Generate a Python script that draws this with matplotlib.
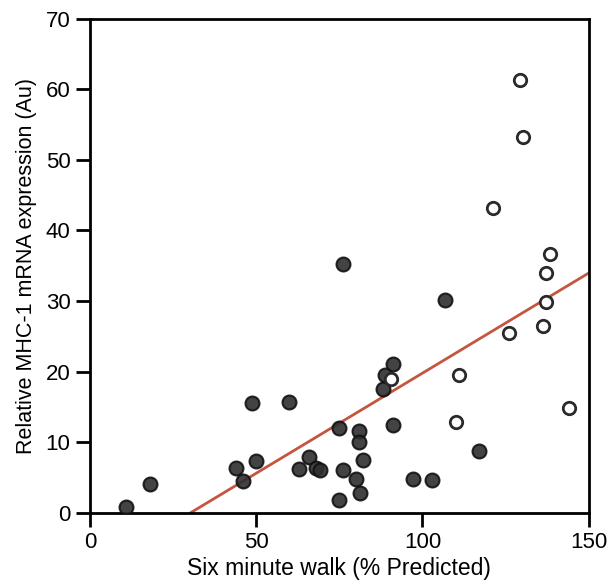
import numpy as np
import matplotlib.pyplot as plt

plt.rcParams['font.family'] = ['Liberation Sans', 'DejaVu Sans']

# filled circles
walk_filled = [10.8, 18.0, 43.9, 45.9, 48.8, 49.9, 59.9, 63.0, 66.0, 68.0, 69.1,
               75.0, 75.0, 76.0, 76.0, 80.0, 81.0, 81.0, 81.1, 82.0, 88.0, 88.8,
               91.1, 91.2, 97.0, 103.0, 106.9, 117.1]
mhc_filled = [0.8, 4.1, 6.3, 4.5, 15.5, 7.3, 15.7, 6.2, 7.9, 6.3, 6.1,
              12.0, 1.8, 35.2, 6.1, 4.8, 11.6, 10.0, 2.8, 7.4, 17.5, 19.5,
              12.4, 21.1, 4.8, 4.6, 30.2, 8.7]

# open circles
walk_open = [90.4, 110.2, 111.1, 121.1, 126.1, 129.2, 130.1, 136.1, 137.0, 137.0,
             138.3, 144.2]
mhc_open = [18.9, 12.9, 19.5, 43.2, 25.4, 61.4, 53.3, 26.5, 29.9, 34.0,
            36.6, 14.8]

# regression line
fit_slope = 0.284
fit_intercept = -8.63
fit_x = [30.4, 150]

fig = plt.figure(figsize=(6.12, 5.86), dpi=100)
ax = fig.add_axes([0.147, 0.1254, 0.815, 0.8422])

fx = np.array(fit_x)
ax.plot(fx, fit_slope * fx + fit_intercept, color='#c4553f', lw=2, zorder=2)

ax.scatter(walk_filled, mhc_filled, s=100, facecolor='#2e2e2e', edgecolor='#111111',
           linewidth=1.5, alpha=0.9, zorder=3)
ax.scatter(walk_open, mhc_open, s=80, facecolor='white', edgecolor='#2a2a2a',
           linewidth=2, zorder=3)

ax.set_xlim(0, 150)
ax.set_ylim(0, 70)
ax.set_xticks([0, 50, 100, 150])
ax.set_yticks(np.arange(0, 71, 10))

for sp in ax.spines.values():
    sp.set_linewidth(2)
ax.tick_params(direction='out', length=10, width=2, labelsize=16, pad=4)

ax.set_xlabel('Six minute walk (% Predicted)', fontsize=16.5, labelpad=3)
ax.set_ylabel('Relative MHC-1 mRNA expression (Au)', fontsize=15.5, labelpad=6)

fig.savefig('out.png', dpi=100)
